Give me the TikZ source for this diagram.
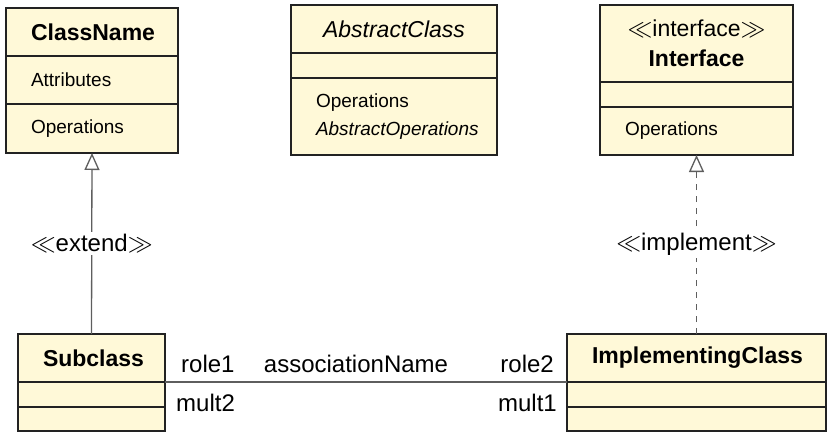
\documentclass[tikz,border=0pt]{standalone}
\usepackage{fontspec}
\setmainfont{Liberation Sans}
\usetikzlibrary{arrows.meta,positioning}
\definecolor{umlfill}{HTML}{FFF9D8}
\definecolor{umlline}{HTML}{222222}
\definecolor{linkgray}{HTML}{5E5E5E}

\begin{document}
\begin{tikzpicture}[x=1pt,y=-1pt,
    compart/.style={draw=umlline, line width=1.3pt, fill=umlfill, anchor=north west,
        inner xsep=25pt, inner ysep=0pt, outer sep=0pt, align=left,
        font=\fontsize{19}{28}\selectfont},
    titlepart/.style={compart, align=center, font=\fontsize{23}{30}\selectfont},
    linklabel/.style={font=\fontsize{24}{26}\selectfont, inner sep=2pt},
    generalise/.style={draw=linkgray, line width=1.3pt, -{Triangle[open, length=17pt, width=15pt, fill=white]}},
    realise/.style={generalise, dash pattern=on 6pt off 6pt},
    assoc/.style={draw=linkgray, line width=1.3pt}
]
\useasboundingbox (0,0) rectangle (829,436);

% ClassName
\node[titlepart, minimum width=172pt, minimum height=48pt, text width=122pt] (cntitle) at (6,8) {\textbf{ClassName}};
\node[compart, minimum width=172pt, minimum height=48pt, text width=122pt] (cnattr) at (6,56) {Attributes};
\node[compart, minimum width=172pt, minimum height=49pt, text width=122pt] (cnops) at (6,104) {Operations};

% AbstractClass
\node[titlepart, minimum width=206pt, minimum height=48pt, text width=156pt] (actitle) at (291,5) {\textit{AbstractClass}};
\node[compart, minimum width=206pt, minimum height=25pt, text width=156pt] (acattr) at (291,53) {};
\node[compart, minimum width=206pt, minimum height=77pt, text width=156pt] (acops) at (291,78) {Operations\\\textit{AbstractOperations}};

% Interface
\node[titlepart, minimum width=193pt, minimum height=77pt, text width=143pt] (iftitle) at (600,5) {$\ll$interface$\gg$\\\textbf{Interface}};
\node[compart, minimum width=193pt, minimum height=25pt, text width=143pt] (ifattr) at (600,82) {};
\node[compart, minimum width=193pt, minimum height=48pt, text width=143pt] (ifops) at (600,107) {Operations};

% Subclass
\node[titlepart, minimum width=147pt, minimum height=48pt, text width=97pt] (sctitle) at (18,334) {\textbf{Subclass}};
\node[compart, minimum width=147pt, minimum height=25pt, text width=97pt] (scattr) at (18,382) {};
\node[compart, minimum width=147pt, minimum height=24pt, text width=97pt] (scops) at (18,407) {};

% ImplementingClass
\node[titlepart, minimum width=259pt, minimum height=48pt, text width=209pt] (ictitle) at (567,334) {\textbf{ImplementingClass}};
\node[compart, minimum width=259pt, minimum height=25pt, text width=209pt] (icattr) at (567,382) {};
\node[compart, minimum width=259pt, minimum height=24pt, text width=209pt] (icops) at (567,407) {};

% links
\draw[generalise] (sctitle.north) -- node[linklabel, fill=white] (extlbl) {$\ll$extend$\gg$} (cnops.south);
\draw[realise] (ictitle.north) -- node[linklabel, fill=white] (implbl) {$\ll$implement$\gg$} (ifops.south);
\draw[assoc] (sctitle.south east) -- node[linklabel, anchor=base, xshift=-10pt, yshift=10pt] (assocname) {associationName} (ictitle.south west);

\node[linklabel, anchor=base west] (role1) at ([xshift=14pt, yshift=10pt]sctitle.south east) {role1};
\node[linklabel, anchor=base west] (mult2) at ([xshift=9pt, yshift=-29pt]sctitle.south east) {mult2};
\node[linklabel, anchor=base east] (role2) at ([xshift=-11pt, yshift=10pt]ictitle.south west) {role2};
\node[linklabel, anchor=base east] (mult1) at ([xshift=-8pt, yshift=-29pt]ictitle.south west) {mult1};
\end{tikzpicture}
\end{document}
